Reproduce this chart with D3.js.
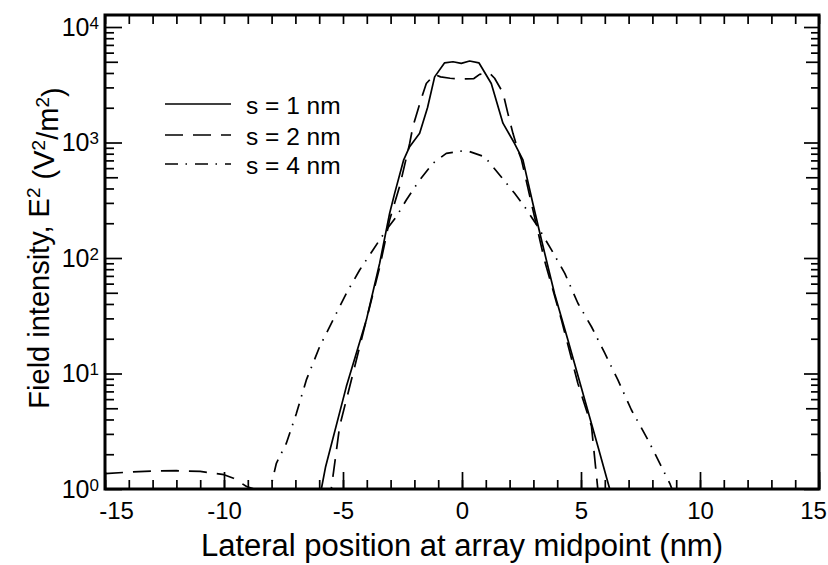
<!DOCTYPE html>
<html>
<head>
<meta charset="utf-8">
<script src="https://cdn.jsdelivr.net/npm/d3@7"></script>
<style>
  html, body { margin: 0; padding: 0; background: #fff; }
  svg { display: block; font-family: "Liberation Sans", Arial, Helvetica, sans-serif; }
</style>
</head>
<body>
<script>
// ---------- DATA ----------
const xMinorTicks = d3.range(-15, 16, 1);
const xMajorTicks = [-15, -10, -5, 0, 5, 10, 15];
const yExponents = [0, 1, 2, 3, 4];

const seriesNames = ["s = 1 nm", "s = 2 nm", "s = 4 nm"];

// s = 1 nm (solid)
const xS1 = [-6.2, -5.91, -5.73, -4.86, -4.02, -3.46, -3.04, -2.83, -2.45, -2.2, -1.78, -1.45, -1.15, -0.73, -0.38, -0.03, 0.32, 0.71, 1.23, 1.72, 2.21, 2.56, 2.98, 3.34, 3.89, 4.45, 5.16, 5.72, 6.2, 6.5];
const yS1 = [0.6, 1.0, 1.56, 7.7, 29, 90, 244, 363, 708, 920, 1200, 2000, 3700, 4900, 5000, 4850, 5080, 4900, 3240, 1470, 980, 708, 295, 143, 49, 19.5, 5.9, 2.3, 1.01, 0.6];

// s = 2 nm (dashed)
const xS2 = [-15, -14, -13, -12, -11, -10, -9.6, -9.05, -8.6, -8, -7, -6, -5.49, -5.14, -4.58, -4.02, -3.46, -3.04, -2.62, -2.2, -2.06, -1.71, -1.5, -1.15, -0.9, -0.5, 0, 0.5, 0.74, 1.16, 1.37, 1.72, 1.93, 2.14, 2.35, 2.5, 2.92, 3.47, 4.18, 4.87, 5.44, 5.69, 5.9];
const yS2 = [1.36, 1.40, 1.43, 1.44, 1.42, 1.33, 1.24, 1.05, 0.98, 0.8, 0.5, 0.5, 1.01, 3.5, 10, 29, 83, 214, 417, 980, 1380, 2400, 3240, 3890, 3700, 3600, 3550, 3580, 3890, 3980, 3600, 2700, 1780, 1200, 860, 708, 295, 95, 29, 8.2, 3.5, 1.08, 0.4];

// s = 4 nm (dash-dot)
const xS4 = [-8.3, -8.05, -7.8, -7.38, -6.96, -6.54, -5.98, -5.42, -4.86, -4.3, -3.74, -3.18, -2.76, -2.34, -1.78, -1.22, -0.66, -0.03, 0.25, 0.95, 1.66, 2.21, 2.63, 3.19, 3.76, 4.32, 4.87, 5.44, 6.0, 6.55, 7.12, 7.82, 8.38, 8.73, 9.0];
const yS4 = [0.8, 1.01, 1.67, 2.49, 4.5, 8.8, 17.1, 29, 49.4, 78.7, 117.5, 175, 228, 318, 473, 661, 805, 843, 843, 753, 501, 363, 278, 186, 117.5, 73.6, 40.6, 25.4, 15, 8.8, 4.83, 2.65, 1.56, 1.12, 0.8];

// ---------- LAYOUT ----------
const W = 828, H = 565;
const L = 105, R = 819, T = 15, B = 489;
const FONT = '"Liberation Sans", Arial, Helvetica, sans-serif';

const svg = d3.select("body").append("svg").attr("width", W).attr("height", H);

const x = d3.scaleLinear().domain([-15, 15]).range([L, R]);
const y = d3.scaleLog().domain([1, Math.pow(10, 4.104)]).range([B, T]);

const yMajor = yExponents.map(e => Math.pow(10, e));
const yMid = [0, 1, 2, 3].map(e => 5 * Math.pow(10, e));
const yMinor = [];
[0, 1, 2, 3].forEach(e => [2, 3, 4, 6, 7, 8, 9].forEach(m => yMinor.push(m * Math.pow(10, e))));

function styleAxis(g) {
  g.select(".domain").remove();
  g.selectAll(".tick line").attr("stroke", "#000").attr("stroke-width", 1.7);
}

// bottom axis
svg.append("g").attr("transform", `translate(0,${B})`)
  .call(d3.axisBottom(x).tickValues(xMinorTicks).tickSize(-9).tickFormat(""))
  .call(styleAxis);
const xb = svg.append("g").attr("transform", `translate(0,${B})`)
  .call(d3.axisBottom(x).tickValues(xMajorTicks).tickSize(-17).tickPadding(13).tickFormat(d => String(d)))
  .call(styleAxis);
xb.selectAll(".tick text")
  .attr("font-family", FONT).attr("font-size", 24).attr("fill", "#000")
  .attr("dx", d => d === -15 ? 11 : (d === 15 ? -6 : 0));

// top axis
svg.append("g").attr("transform", `translate(0,${T})`)
  .call(d3.axisTop(x).tickValues(xMinorTicks).tickSize(-9).tickFormat(""))
  .call(styleAxis);

// left axis
[[yMajor, -17], [yMid, -13], [yMinor, -9]].forEach(([vals, sz]) => {
  svg.append("g").attr("transform", `translate(${L},0)`)
    .call(d3.axisLeft(y).tickValues(vals).tickSize(sz).tickFormat(""))
    .call(styleAxis);
});
// right axis
[[yMajor, -15], [yMid, -13], [yMinor, -8]].forEach(([vals, sz]) => {
  svg.append("g").attr("transform", `translate(${R},0)`)
    .call(d3.axisRight(y).tickValues(vals).tickSize(sz).tickFormat(""))
    .call(styleAxis);
});

// y tick labels 10^n
yExponents.forEach(e => {
  const t = svg.append("text")
    .attr("x", L - 6).attr("y", y(Math.pow(10, e))).attr("dy", "0.35em")
    .attr("text-anchor", "end").attr("font-family", FONT).attr("font-size", 25).attr("fill", "#000");
  t.append("tspan").text("10");
  t.append("tspan").attr("dy", "-0.42em").attr("font-size", 17).text(String(e));
});

// frame
svg.append("rect").attr("x", L).attr("y", T).attr("width", R - L).attr("height", B - T)
  .attr("fill", "none").attr("stroke", "#000").attr("stroke-width", 3);

// clip
svg.append("clipPath").attr("id", "plotclip").append("rect")
  .attr("x", L).attr("y", T).attr("width", R - L).attr("height", B - T);

const line = d3.line().x(d => x(d[0])).y(d => y(d[1])).curve(d3.curveLinear);
const series = [
  { xs: xS1, ys: yS1, dash: null },
  { xs: xS2, ys: yS2, dash: "18,10" },
  { xs: xS4, ys: yS4, dash: "13,7.5,1.5,8" }
];
const plot = svg.append("g").attr("clip-path", "url(#plotclip)");
series.forEach(s => {
  plot.append("path")
    .datum(s.xs.map((v, i) => [v, s.ys[i]]))
    .attr("d", line)
    .attr("fill", "none").attr("stroke", "#000").attr("stroke-width", 1.7)
    .attr("stroke-linejoin", "round")
    .attr("stroke-dasharray", s.dash);
});

// legend
const legY = [104, 135, 164];
series.forEach((s, i) => {
  svg.append("line").attr("x1", 165).attr("x2", 231).attr("y1", legY[i]).attr("y2", legY[i])
    .attr("stroke", "#000").attr("stroke-width", 1.7).attr("stroke-dasharray", s.dash);
  svg.append("text").attr("x", 246).attr("y", legY[i] + 9.5)
    .attr("font-family", FONT).attr("font-size", 24.5).attr("fill", "#000").text(seriesNames[i]);
});

// axis titles
svg.append("text").attr("x", (L + R) / 2).attr("y", 556)
  .attr("text-anchor", "middle").attr("font-family", FONT).attr("font-size", 31).attr("fill", "#000")
  .text("Lateral position at array midpoint (nm)");

const yt = svg.append("text")
  .attr("transform", `translate(49,${(T + B) / 2 - 4}) rotate(-90)`)
  .attr("text-anchor", "middle").attr("font-family", FONT).attr("font-size", 29).attr("fill", "#000");
yt.append("tspan").text("Field intensity, E");
yt.append("tspan").attr("dy", "-0.45em").attr("font-size", 19).text("2");
yt.append("tspan").attr("dy", "0.45em").text(" (V");
yt.append("tspan").attr("dy", "-0.45em").attr("font-size", 19).text("2");
yt.append("tspan").attr("dy", "0.45em").text("/m");
yt.append("tspan").attr("dy", "-0.45em").attr("font-size", 19).text("2");
yt.append("tspan").attr("dy", "0.45em").text(")");
</script>
</body>
</html>
